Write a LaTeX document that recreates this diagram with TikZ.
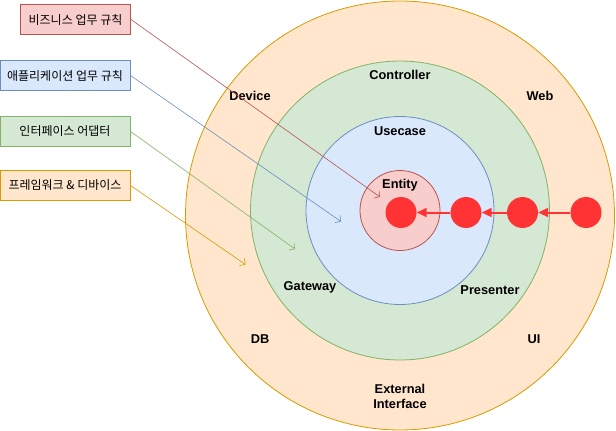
\documentclass[tikz,border=0pt]{standalone}
\usepackage{fontspec}
\setmainfont{Liberation Sans}
\newfontfamily\kr{Noto Sans CJK KR}
\usetikzlibrary{arrows.meta}
\definecolor{redF}{HTML}{F8CECC}\definecolor{redS}{HTML}{B85450}
\definecolor{bluF}{HTML}{DAE8FC}\definecolor{bluS}{HTML}{6C8EBF}
\definecolor{grnF}{HTML}{D5E8D4}\definecolor{grnS}{HTML}{82B366}
\definecolor{orgF}{HTML}{FFE6CC}\definecolor{orgS}{HTML}{D79B00}
\definecolor{dotR}{HTML}{FF3333}
\begin{document}
\begin{tikzpicture}[x=1pt,y=-1pt,
  ring/.style={circle,inner sep=0pt,line width=0.8pt},
  lab/.style={font=\fontsize{12.8}{14}\selectfont\bfseries,align=center,inner sep=0pt},
  kbox/.style={draw,line width=1pt,minimum width=110pt,minimum height=29.5pt,inner sep=0pt,font=\kr\fontsize{12}{13}\selectfont},
  dot/.style={circle,fill=dotR,inner sep=0pt,minimum size=31pt},
  dep/.style={dotR,line width=2pt,-{Triangle[length=10pt,width=9pt]}},
  hint/.style={line width=0.6pt,-{Straight Barb[length=4pt,width=9pt]}}]
\useasboundingbox (0,0) rectangle (616,431);
% rings
\node[ring,draw=orgS,fill=orgF,minimum size=429pt] (outer) at (400,215.5) {};
\node[ring,draw=grnS,fill=grnF,minimum size=299pt] (green) at (400,210.5) {};
\node[ring,draw=bluS,fill=bluF,minimum size=188pt] (blue) at (400,210.5) {};
\node[ring,draw=redS,fill=redF,minimum size=80pt] (entity) at (400,210.5) {};
% labels
\node[lab] (lController) at (400,75) {Controller};
\node[lab] (lUsecase) at (400,131) {Usecase};
\node[lab] (lEntity) at (400,185) {Entity};
\node[lab] (lDevice) at (250,96) {Device};
\node[lab] (lWeb) at (540,96) {Web};
\node[lab] (lGateway) at (310,287) {Gateway};
\node[lab] (lPresenter) at (490,290) {Presenter};
\node[lab] (lDB) at (260,339) {DB};
\node[lab] (lUI) at (534,339) {UI};
\node[lab] (lExt) at (400,396) {External\\[1pt]Interface};
% dots
\node[dot] (d1) at (401,212.5) {};
\node[dot] (d2) at (466,212.5) {};
\node[dot] (d3) at (522.5,212.5) {};
\node[dot] (d4) at (586,212.5) {};
\draw[dep] (d4) -- (d3);
\draw[dep] (d3) -- (d2);
\draw[dep] (d2) -- (d1);
% boxes
\node[kbox,draw=redS,fill=redF] (b1) at (75.5,19.5) {비즈니스 업무 규칙};
\node[kbox,draw=bluS,fill=bluF,minimum width=130pt] (b2) at (65,75.5) {애플리케이션 업무 규칙};
\node[kbox,draw=grnS,fill=grnF,minimum width=130pt] (b3) at (65,131.5) {인터페이스 어댑터};
\node[kbox,draw=orgS,fill=orgF,minimum width=130pt] (b4) at (65,185.5) {프레임워크 \& 디바이스};
\coordinate (t1) at (380,197);
\coordinate (t2) at (341,221.5);
\coordinate (t3) at (295,249);
\coordinate (t4) at (245.5,264.5);
\draw[hint,redS] (b1.east) -- (t1);
\draw[hint,bluS] (b2.east) -- (t2);
\draw[hint,grnS] (b3.east) -- (t3);
\draw[hint,orgS] (b4.east) -- (t4);
\end{tikzpicture}
\end{document}
